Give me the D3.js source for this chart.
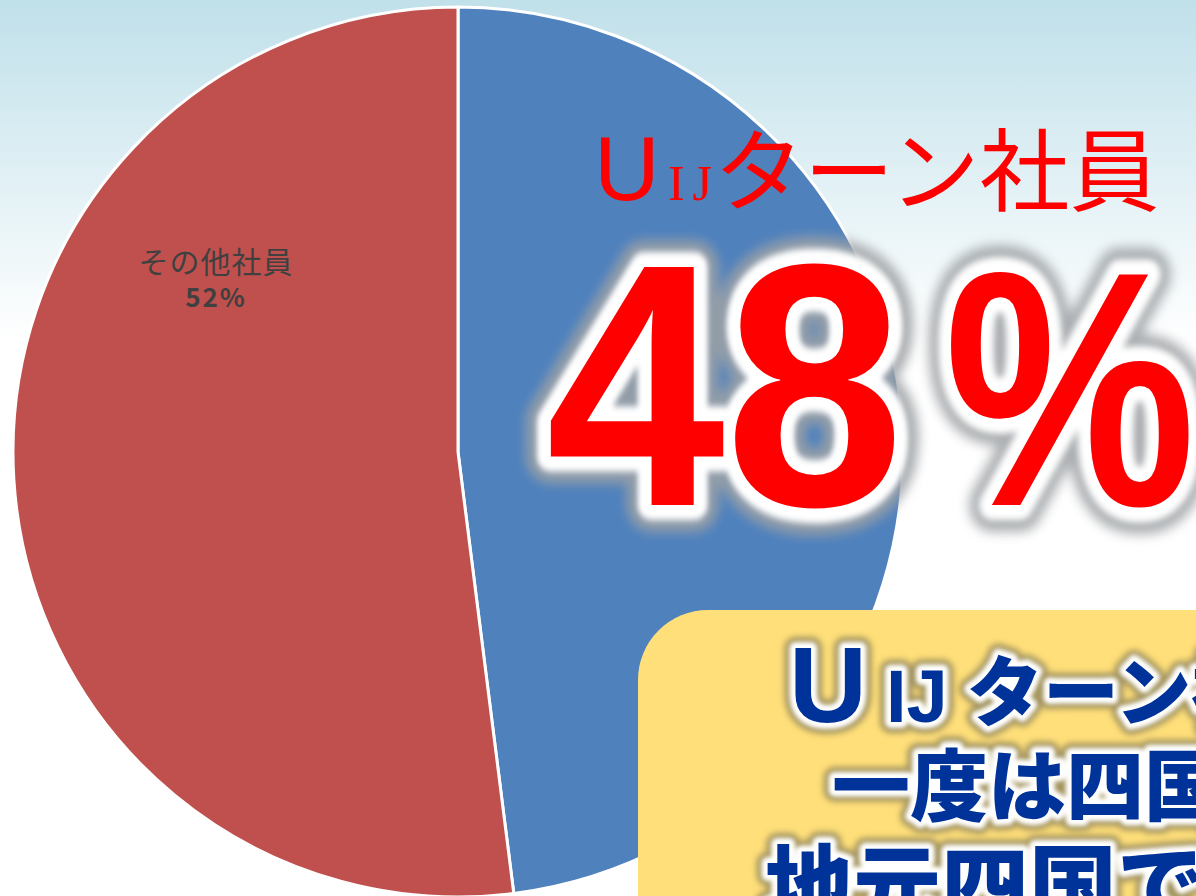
<!DOCTYPE html>
<html>
<head>
<meta charset="utf-8">
<script src="https://cdn.jsdelivr.net/npm/d3@7"></script>
<style>
  body { margin: 0; overflow: hidden; background: #fff; }
</style>
</head>
<body>
<div id="chart"></div>
<script>
// chart data
var categories = ["UIJターン社員", "その他社員"];
var values = [48, 52];
// headline parts over the chart
var headlineBig = "U";
var headlineSmall = "IJ";
var headlineRest = "ターン社員";
// callout box lines
var boxLines = ["ターン社員は", "一度は四国を離れ", "地元四国で就職"];

function init() {
  var w = 1196, h = 896;
  var cx = 458, cy = 452, r = 445;

  var svg = d3.select("#chart")
    .append("svg")
      .attr("width", w)
      .attr("height", h);

  var defs = svg.append("defs");
  var grad = defs.append("linearGradient")
    .attr("id", "bg").attr("x1", 0).attr("y1", 0).attr("x2", 0).attr("y2", 1);
  grad.append("stop").attr("offset", "0%").attr("stop-color", "#c0e0ea");
  grad.append("stop").attr("offset", "38%").attr("stop-color", "#ffffff");

  [["blur2", 2], ["blur3", 3], ["blur6", 6]].forEach(function(f) {
    defs.append("filter").attr("id", f[0])
      .attr("x", "-20%").attr("y", "-20%").attr("width", "140%").attr("height", "140%")
      .append("feGaussianBlur").attr("stdDeviation", f[1]);
  });

  // background
  svg.append("rect")
    .attr("width", w).attr("height", h)
    .style("fill", "url(#bg)");

  // pie
  var color = d3.scaleOrdinal()
    .domain(categories)
    .range(["#4f81bd", "#c0504d"]);

  var data = categories.map(function(c, i) { return { name: c, value: values[i] }; });
  var pie = d3.pie().sort(null).value(function(d) { return d.value; });
  var arc = d3.arc().innerRadius(0).outerRadius(r);

  var g = svg.append("g").attr("transform", "translate(" + cx + "," + cy + ")");
  g.selectAll("path.slice")
    .data(pie(data))
    .enter()
    .append("path")
      .attr("class", "slice")
      .attr("d", arc)
      .style("fill", function(d) { return color(d.data.name); })
      .style("stroke", "#fff")
      .style("stroke-width", 3)
      .style("stroke-linejoin", "round");

  // data label of the second slice (first one is hidden under the headline)
  var lab = g.append("g").attr("transform", "translate(-242,0)");
  lab.append("text")
    .attr("y", -179)
    .attr("text-anchor", "middle")
    .style("font-family", "'Noto Sans CJK JP'")
    .style("font-size", "30px")
    .style("letter-spacing", "1px")
    .style("fill", "#404040")
    .text(categories[1]);
  lab.append("text")
    .attr("y", -145)
    .attr("text-anchor", "middle")
    .style("font-family", "'Noto Sans CJK JP'")
    .style("font-weight", "bold")
    .style("font-size", "26px")
    .style("letter-spacing", "2px")
    .style("fill", "#404040")
    .text(values[1] + "%");

  // red headline
  var t = svg.append("g").style("fill", "#ff0000");
  t.append("text")
    .attr("x", 594).attr("y", 200)
    .style("font-family", "'Liberation Sans'")
    .style("font-size", "91px")
    .text(headlineBig);
  t.append("text")
    .attr("x", 668).attr("y", 200)
    .attr("textLength", 44).attr("lengthAdjust", "spacing")
    .style("font-family", "'Liberation Serif'")
    .style("font-size", "50px")
    .text(headlineSmall);
  t.append("text")
    .attr("x", 714).attr("y", 204)
    .style("font-family", "'Noto Sans CJK JP'")
    .style("font-size", "90px")
    .text(headlineRest);

  // text with white halo and soft shadow; sx squeezes it horizontally
  function glowText(parent, x, y, str, size, weight, fam, fill, layers, sx, len) {
    var holder = parent.append("g")
      .attr("transform", "translate(" + x + "," + y + ") scale(" + (sx || 1) + ",1)");
    layers.concat([{ color: null }]).forEach(function(l) {
      var e = holder.append("text")
        .style("font-family", fam)
        .style("font-size", size + "px")
        .style("font-weight", weight)
        .text(str);
      if (l.color) {
        e.style("fill", l.color)
          .style("stroke", l.color)
          .style("stroke-width", l.width)
          .style("stroke-linejoin", "round")
          .style("opacity", l.opacity)
          .attr("filter", l.filter);
      } else {
        e.style("fill", fill);
      }
      if (len) e.attr("textLength", len).attr("lengthAdjust", "spacingAndGlyphs");
    });
  }

  var bigLayers = [
    { color: "#9ea2a5", width: 54, opacity: 0.85, filter: "url(#blur6)" },
    { color: "#ffffff", width: 30, opacity: 1, filter: "url(#blur3)" }
  ];
  var big = svg.append("g");
  glowText(big, 546, 505, String(values[0]), 346, "bold", "'Liberation Sans'", "#ff0000", bigLayers, 0.93);
  glowText(big, 944, 505, "%", 335, "bold", "'Liberation Sans'", "#ff0000", bigLayers, 1, 252);

  // callout box
  svg.append("rect")
    .attr("x", 638).attr("y", 610)
    .attr("width", 700).attr("height", 400)
    .attr("rx", 70)
    .style("fill", "#ffdf79");

  var boxLayers = [
    { color: "#7d7455", width: 22, opacity: 0.7, filter: "url(#blur3)" },
    { color: "#ffffff", width: 12, opacity: 1, filter: "url(#blur2)" }
  ];
  var bx = svg.append("g");
  var fam = "'Noto Sans CJK JP'";
  glowText(bx, 789, 722, "U", 108, "bold", "'Liberation Sans'", "#003399", boxLayers);
  glowText(bx, 886, 722, "IJ", 74, "bold", "'Liberation Sans'", "#003399", boxLayers);
  glowText(bx, 967, 720, boxLines[0], 76, 900, fam, "#003399", boxLayers);
  glowText(bx, 832, 815, boxLines[1], 78, 900, fam, "#003399", boxLayers);
  glowText(bx, 765, 918, boxLines[2], 88, 900, fam, "#003399", boxLayers);
}
window.onload = init;
</script>
</body>
</html>
